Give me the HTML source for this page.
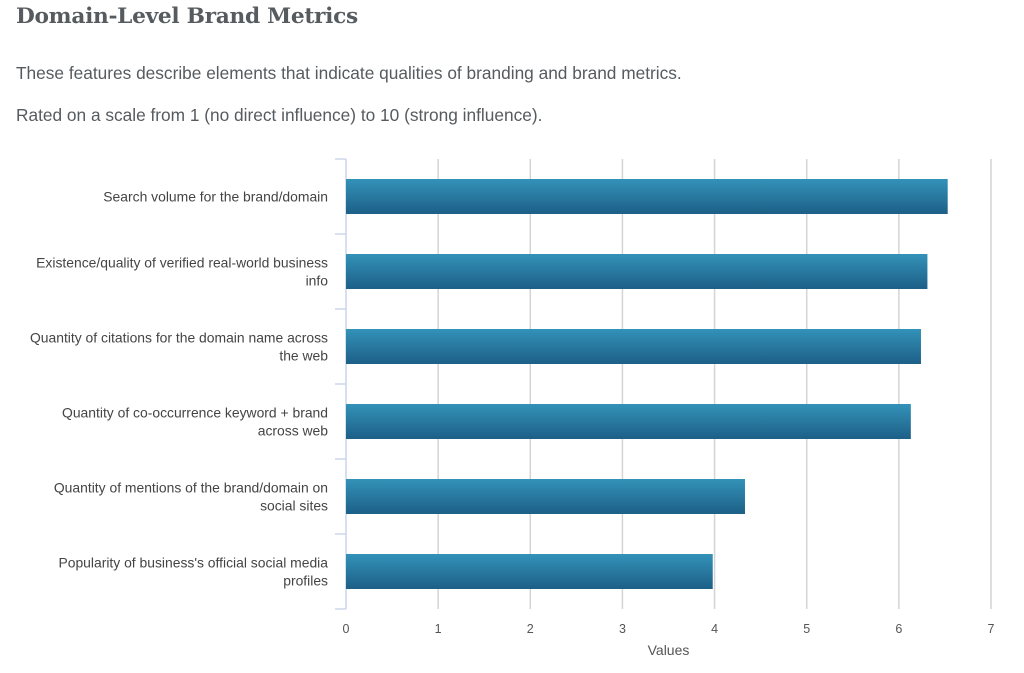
<!DOCTYPE html>
<html><head><meta charset="utf-8"><style>
body{margin:0;background:#fff;width:1024px;height:673px;overflow:hidden;font-family:"Liberation Sans",sans-serif}
h1{position:absolute;left:16px;top:4px;margin:0;font:bold 21.7px "DejaVu Serif",serif;color:#555b5f;letter-spacing:-0.3px}
p{position:absolute;left:16px;margin:0;font-size:17.3px;color:#555b5f}
</style></head><body>
<h1>Domain-Level Brand Metrics</h1>
<p style="top:63px">These features describe elements that indicate qualities of branding and brand metrics.</p>
<p style="top:105px">Rated on a scale from 1 (no direct influence) to 10 (strong influence).</p>
<svg id="chart" width="1024" height="673" style="position:absolute;left:0;top:0">
<defs><linearGradient id="g" x1="0" y1="0" x2="0" y2="1"><stop offset="0" stop-color="#3392b8"/><stop offset="1" stop-color="#1d5f87"/></linearGradient></defs>
</svg>
<script>
const categories=[["Search volume for the brand/domain"],["Existence/quality of verified real-world business","info"],["Quantity of citations for the domain name across","the web"],["Quantity of co-occurrence keyword + brand","across web"],["Quantity of mentions of the brand/domain on","social sites"],["Popularity of business's official social media","profiles"]];
const values=[6.53,6.31,6.24,6.13,4.33,3.98];
const ticks=[0,1,2,3,4,5,6,7];
const svg=document.getElementById('chart');const NS='http://www.w3.org/2000/svg';
const x0=346,x1=991,plotTop=159,plotBottom=609;
const xs=v=>x0+(v-0)/(7-0)*(x1-x0);
const band=(plotBottom-plotTop)/categories.length;
function mk(t,a){const e=document.createElementNS(NS,t);for(const k in a)e.setAttribute(k,a[k]);svg.appendChild(e);return e;}
ticks.forEach(t=>{if(t>0){const l=mk('line',{x1:xs(t),x2:xs(t),y1:plotTop,y2:plotBottom,stroke:'#d4d4d4','stroke-width':1.5});

}
const tx=mk('text',{x:xs(t),y:633,'text-anchor':'middle','font-size':12.5,fill:'#555'});tx.textContent=t;

});
const ax=mk('line',{x1:x0,x2:x0,y1:plotTop,y2:plotBottom,stroke:'#ccd6eb','stroke-width':1.5});


for(let i=0;i<=categories.length;i++){const y=plotTop+i*band;const tk=mk('line',{x1:x0-11,x2:x0,y1:y,y2:y,stroke:'#ccd6eb','stroke-width':1.5});

}
categories.forEach((c,i)=>{const yc=plotTop+band*(i+0.5);const bh=35;
const r=mk('rect',{x:x0,y:yc-bh/2,width:xs(values[i])-x0,height:bh,fill:'url(#g)'});


const t=mk('text',{x:328,'text-anchor':'end','font-size':13.9,fill:'#444'});


const y0=c.length===1?yc+5:yc-4;
c.forEach((s,j)=>{const ts=document.createElementNS(NS,'tspan');ts.setAttribute('x',328);ts.setAttribute('y',y0+j*18);ts.textContent=s;t.appendChild(ts);});});
const xt=mk('text',{x:(x0+x1)/2,y:655,'text-anchor':'middle','font-size':14,fill:'#555'});xt.textContent='Values';


</script>
</body></html>
